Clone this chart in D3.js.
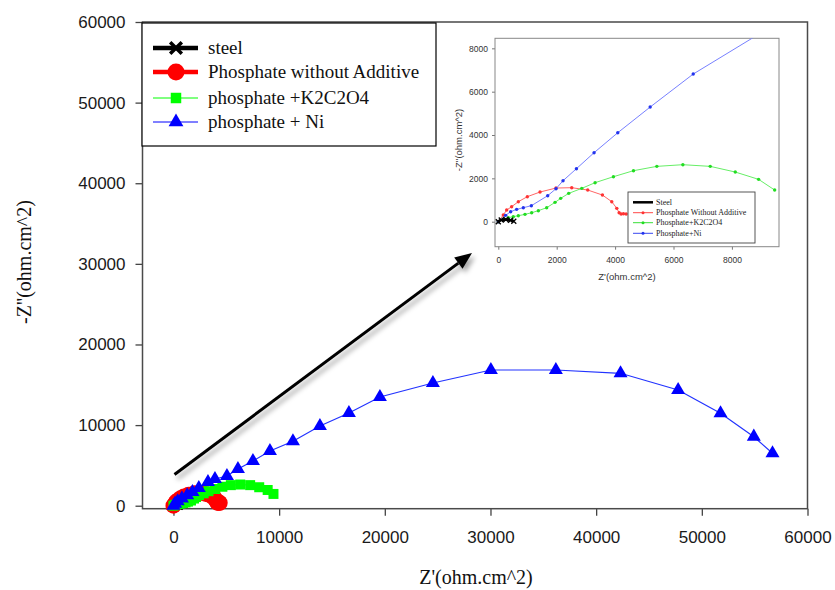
<!DOCTYPE html>
<html>
<head>
<meta charset="utf-8">
<script src="https://cdn.jsdelivr.net/npm/d3@7/dist/d3.min.js"></script>
<style>
  html, body { margin: 0; padding: 0; background: #fff; }
  svg { display: block; }
</style>
</head>
<body>
<svg id="chart" width="835" height="590"></svg>
<script>
// ---------- DATA ----------
const seriesNames = ["steel", "Phosphate without Additive", "phosphate +K2C2O4", "phosphate + Ni"];
const insetNames = ["Steel", "Phosphate Without Additive", "Phosphate+K2C2O4", "Phosphate+Ni"];

const mainXTicks = [0, 10000, 20000, 30000, 40000, 50000, 60000];
const mainYTicks = [0, 10000, 20000, 30000, 40000, 50000, 60000];
const insetXTicks = [0, 2000, 4000, 6000, 8000];
const insetYTicks = [0, 2000, 4000, 6000, 8000];

// [Z', -Z'']
const steel = [[0,0],[40,50],[100,80],[180,95],[260,100],[340,90],[420,70],[480,45],[530,20]];
const phosphate = [[0,0],[171,308],[286,538],[457,692],[686,923],[994,1154],[1429,1369],[1977,1553],[2515,1569],[3063,1461],[3566,1230],[3886,923],[4058,615],[4138,415],[4206,354],[4286,369],[4378,354]];
const k2c2o4 = [[0,0],[171,108],[343,185],[514,231],[686,277],[914,338],[1143,415],[1372,508],[1657,646],[1943,892],[2137,1077],[2412,1307],[2858,1538],[3315,1800],[3943,2076],[4629,2353],[5429,2553],[6321,2630],[7258,2553],[8115,2292],[8915,1953],[9464,1461]];
const niMain = [[0,0],[150,250],[400,550],[800,900],[1300,1300],[1800,1700],[2400,2200],[3264,2940],[3926,3313],[5061,3685],[6102,4553],[7521,5546],[9130,6787],[11306,8000],[13860,9888],[16604,11501],[19536,13486],[24551,15223],[30038,16836],[36187,16836],[42309,16427],[47758,14355],[51769,11464],[54920,8561],[56689,6501]];
const niInset = [[0,0],[251,292],[423,461],[629,569],[857,646],[1132,738],[1692,1200],[1977,1523],[2217,1892],[2675,2445],[3280,3184],[4092,4106],[5201,5291],[6675,6813],[9100,8800]];

// ---------- SETUP ----------
const svg = d3.select("#chart");
const serif = "'Liberation Serif', 'Times New Roman', serif";
const sans = "'Liberation Sans', Arial, sans-serif";

const defs = svg.append("defs");
const shadow = defs.append("filter").attr("id", "shadow").attr("x", "-20%").attr("y", "-20%").attr("width", "140%").attr("height", "140%");
shadow.append("feDropShadow").attr("dx", 3).attr("dy", 4).attr("stdDeviation", 2.5).attr("flood-color", "#000").attr("flood-opacity", 0.35);

// ---------- MAIN CHART ----------
const mL = 142.5, mR = 807.5, mT = 22, mB = 508.7;
const x = d3.scaleLinear().domain([-2930, 60000]).range([mL, mR]);
const y = d3.scaleLinear().domain([-370, 60000]).range([mB, mT]);

const xAxis = svg.append("g").attr("transform", `translate(0,${mB})`)
  .call(d3.axisBottom(x).tickValues(mainXTicks).tickFormat(d3.format("d")).tickSize(7).tickSizeOuter(0).tickPadding(15));
const yAxis = svg.append("g").attr("transform", `translate(${mL},0)`)
  .call(d3.axisLeft(y).tickValues(mainYTicks).tickFormat(d3.format("d")).tickSize(7).tickSizeOuter(0).tickPadding(10));
[xAxis, yAxis].forEach(g => {
  g.select(".domain").remove();
  g.selectAll(".tick line").attr("stroke", "#444").attr("stroke-width", 1.3);
  g.selectAll(".tick text").attr("font-family", sans).attr("font-size", 17).attr("fill", "#1a1a1a");
});

svg.append("rect").attr("x", mL).attr("y", mT).attr("width", mR - mL).attr("height", mB - mT)
  .attr("fill", "none").attr("stroke", "#4a4a4a").attr("stroke-width", 1.5);

svg.append("text").attr("x", 476).attr("y", 584).attr("text-anchor", "middle")
  .attr("font-family", serif).attr("font-size", 20).attr("fill", "#111").text("Z'(ohm.cm^2)");
svg.append("text").attr("transform", "translate(31,262) rotate(-90)").attr("text-anchor", "middle")
  .attr("font-family", serif).attr("font-size", 20).attr("fill", "#111").text("-Z''(ohm.cm^2)");

const mainLine = d3.line().x(d => x(d[0])).y(d => y(d[1]));
const mainG = svg.append("g");

// steel
mainG.append("path").datum(steel).attr("d", mainLine).attr("fill", "none").attr("stroke", "#000").attr("stroke-width", 4);
mainG.selectAll(".st").data(steel).join("path")
  .attr("transform", d => `translate(${x(d[0])},${y(d[1])})`)
  .attr("d", d3.symbol(d3.symbolX, 40)).attr("stroke", "#000").attr("stroke-width", 2.5).attr("fill", "none");
// phosphate
mainG.append("path").datum(phosphate).attr("d", mainLine).attr("fill", "none").attr("stroke", "#ff0000").attr("stroke-width", 4);
mainG.selectAll(".ph").data(phosphate).join("circle")
  .attr("cx", d => x(d[0])).attr("cy", d => y(d[1])).attr("r", 8).attr("fill", "#ff0000");
// K2C2O4
mainG.append("path").datum(k2c2o4).attr("d", mainLine).attr("fill", "none").attr("stroke", "#00ff00").attr("stroke-width", 1);
mainG.selectAll(".k2").data(k2c2o4).join("path")
  .attr("transform", d => `translate(${x(d[0])},${y(d[1])})`)
  .attr("d", d3.symbol(d3.symbolSquare, 100)).attr("fill", "#00ff00");
// Ni
mainG.append("path").datum(niMain).attr("d", mainLine).attr("fill", "none").attr("stroke", "#2233ff").attr("stroke-width", 1.2);
mainG.selectAll(".ni").data(niMain).join("path")
  .attr("transform", d => `translate(${x(d[0])},${y(d[1])})`)
  .attr("d", d3.symbol(d3.symbolTriangle, 85)).attr("fill", "#0000ff");

// main legend
const lg = svg.append("g");
lg.append("rect").attr("x", 142).attr("y", 23).attr("width", 294).attr("height", 123)
  .attr("fill", "#fff").attr("stroke", "#000").attr("stroke-width", 1.2);
const legY = [48, 72, 98, 122];
const legStyle = [
  {c: "#000", w: 4.5, sym: "x"},
  {c: "#ff0000", w: 4.5, sym: "circle"},
  {c: "#00ff00", w: 1, sym: "square"},
  {c: "#0000ff", w: 1, sym: "triangle"}
];
seriesNames.forEach((n, i) => {
  const s = legStyle[i], yy = legY[i];
  lg.append("line").attr("x1", 153).attr("x2", 198).attr("y1", yy).attr("y2", yy).attr("stroke", s.c).attr("stroke-width", s.w);
  const cx = 176;
  if (s.sym === "x") {
    lg.append("path").attr("transform", `translate(${cx},${yy})`).attr("d", d3.symbol(d3.symbolX, 90)).attr("stroke", "#000").attr("stroke-width", 3.5);
  } else if (s.sym === "circle") {
    lg.append("circle").attr("cx", cx).attr("cy", yy).attr("r", 8.5).attr("fill", s.c);
  } else if (s.sym === "square") {
    lg.append("path").attr("transform", `translate(${cx},${yy})`).attr("d", d3.symbol(d3.symbolSquare, 110)).attr("fill", s.c);
  } else {
    lg.append("path").attr("transform", `translate(${cx},${yy})`).attr("d", d3.symbol(d3.symbolTriangle, 95)).attr("fill", s.c);
  }
  lg.append("text").attr("x", 208).attr("y", yy).attr("dy", "0.33em").attr("font-family", serif)
    .attr("font-size", 19).attr("fill", "#111").text(n);
});

// arrow (annotation)
const ax1 = 174.5, ay1 = 474.5, ax2 = 472, ay2 = 253;
const ang = Math.atan2(ay2 - ay1, ax2 - ax1);
const hl = 17, hw = 7;
const bx = ax2 - hl * Math.cos(ang), by = ay2 - hl * Math.sin(ang);
const arrowG = svg.append("g").attr("filter", "url(#shadow)");
arrowG.append("line").attr("x1", ax1).attr("y1", ay1).attr("x2", bx).attr("y2", by).attr("stroke", "#000").attr("stroke-width", 3);
arrowG.append("path").attr("d", d3.line()([
  [ax2, ay2],
  [bx + hw * Math.sin(ang), by - hw * Math.cos(ang)],
  [bx - hw * Math.sin(ang), by + hw * Math.cos(ang)]
]) + "Z").attr("fill", "#000");

// ---------- INSET ----------
const iL = 495, iR = 779, iT = 38.3, iB = 246.7;
const ix = d3.scaleLinear().domain([-113, 9613]).range([iL, iR]);
const iy = d3.scaleLinear().domain([-1154, 8463]).range([iB, iT]);
const inset = svg.append("g");
defs.append("clipPath").attr("id", "iclip").append("rect").attr("x", iL).attr("y", iT).attr("width", iR - iL).attr("height", iB - iT);

const ixAxis = inset.append("g").attr("transform", `translate(0,${iB})`)
  .call(d3.axisBottom(ix).tickValues(insetXTicks).tickFormat(d3.format("d")).tickSize(3).tickSizeOuter(0).tickPadding(7));
const iyAxis = inset.append("g").attr("transform", `translate(${iL},0)`)
  .call(d3.axisLeft(iy).tickValues(insetYTicks).tickFormat(d3.format("d")).tickSize(3).tickSizeOuter(0).tickPadding(4));
[ixAxis, iyAxis].forEach(g => {
  g.select(".domain").remove();
  g.selectAll(".tick line").attr("stroke", "#777");
  g.selectAll(".tick text").attr("font-family", sans).attr("font-size", 8.5).attr("fill", "#333");
});
inset.append("rect").attr("x", iL).attr("y", iT).attr("width", iR - iL).attr("height", iB - iT)
  .attr("fill", "none").attr("stroke", "#888").attr("stroke-width", 1);
inset.append("text").attr("x", 627).attr("y", 280).attr("text-anchor", "middle")
  .attr("font-family", sans).attr("font-size", 9.5).attr("fill", "#333").text("Z'(ohm.cm^2)");
inset.append("text").attr("transform", "translate(462,140) rotate(-90)").attr("text-anchor", "middle")
  .attr("font-family", sans).attr("font-size", 9.5).attr("fill", "#333").text("-Z''(ohm.cm^2)");

const iLine = d3.line().x(d => ix(d[0])).y(d => iy(d[1]));
const ig = inset.append("g").attr("clip-path", "url(#iclip)");
const insetSeries = [
  {data: phosphate, c: "#ff3333", lc: "#ff6666"},
  {data: k2c2o4, c: "#22dd22", lc: "#66ee66"},
  {data: niInset, c: "#2233ee", lc: "#7780ff"}
];
insetSeries.forEach(s => {
  ig.append("path").datum(s.data).attr("d", iLine).attr("fill", "none").attr("stroke", s.lc).attr("stroke-width", 1);
  ig.selectAll(null).data(s.data).join("circle").attr("cx", d => ix(d[0])).attr("cy", d => iy(d[1])).attr("r", 1.7).attr("fill", s.c);
});
ig.append("path").datum(steel).attr("d", iLine).attr("fill", "none").attr("stroke", "#000").attr("stroke-width", 2.5);
ig.selectAll(null).data(steel.filter((d, i) => i % 2 === 0)).join("path")
  .attr("transform", d => `translate(${ix(d[0])},${iy(d[1])})`)
  .attr("d", d3.symbol(d3.symbolX, 18)).attr("stroke", "#000").attr("stroke-width", 1.3);

// inset legend
const il = inset.append("g");
il.append("rect").attr("x", 628).attr("y", 192).attr("width", 127).attr("height", 51)
  .attr("fill", "#fff").attr("stroke", "#444").attr("stroke-width", 0.9);
const ilY = [202.3, 212.7, 222.7, 233.3];
const ilC = ["#000", "#ff3333", "#22dd22", "#2233ee"];
insetNames.forEach((n, i) => {
  const yy = ilY[i];
  il.append("line").attr("x1", 633).attr("x2", 653).attr("y1", yy).attr("y2", yy)
    .attr("stroke", ilC[i]).attr("stroke-width", i === 0 ? 2.5 : 0.9);
  if (i > 0) il.append("circle").attr("cx", 643).attr("cy", yy).attr("r", 1.5).attr("fill", ilC[i]);
  il.append("text").attr("x", 656).attr("y", yy).attr("dy", "0.33em").attr("font-family", serif)
    .attr("font-size", 8).attr("fill", "#222").text(n);
});
</script>
</body>
</html>
